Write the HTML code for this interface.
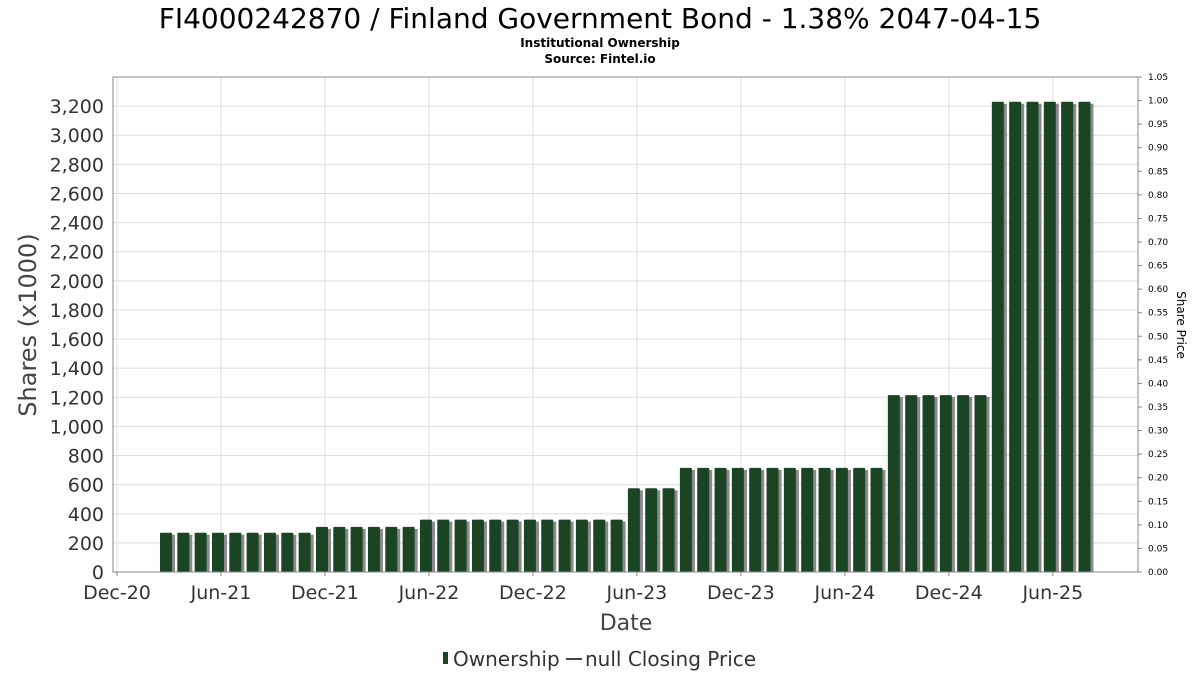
<!DOCTYPE html>
<html><head><meta charset="utf-8"><style>
body{margin:0;background:#fff;font-family:"DejaVu Sans","Liberation Sans",sans-serif;}
svg text{font-family:"DejaVu Sans","Liberation Sans",sans-serif;}
</style></head><body>
<svg id="c" width="1200" height="675" xmlns="http://www.w3.org/2000/svg">
<text x="600" y="28" text-anchor="middle" font-size="28" fill="#000">FI4000242870 / Finland Government Bond - 1.38% 2047-04-15</text>
<text x="600" y="47" text-anchor="middle" font-size="12" font-weight="bold" fill="#000">Institutional Ownership</text>
<text x="600" y="63" text-anchor="middle" font-size="12" font-weight="bold" fill="#000">Source: Fintel.io</text>
<g id="grid"></g><g id="bars"></g><g id="axes"></g>
<text transform="translate(36,325) rotate(-90)" text-anchor="middle" font-size="24" fill="#444">Shares (x1000)</text>
<text transform="translate(1177,325) rotate(90)" text-anchor="middle" font-size="12" fill="#000">Share Price</text>
<text x="626" y="630" text-anchor="middle" font-size="22" fill="#444">Date</text>
<g>
<rect x="443" y="652" width="5" height="12" fill="#1a4424"/>
<text x="453" y="666" font-size="20" fill="#333">Ownership</text>
<line x1="566" y1="659" x2="582" y2="659" stroke="#444" stroke-width="2"/>
<text x="585" y="666" font-size="20" fill="#333">null Closing Price</text>
</g>
</svg>
<script>
const xLabels=["Dec-20","Jun-21","Dec-21","Jun-22","Dec-22","Jun-23","Dec-23","Jun-24","Dec-24","Jun-25"];
const yTicks=[0,200,400,600,800,1000,1200,1400,1600,1800,2000,2200,2400,2600,2800,3000,3200];
const rTicks=["0.00","0.05","0.10","0.15","0.20","0.25","0.30","0.35","0.40","0.45","0.50","0.55","0.60","0.65","0.70","0.75","0.80","0.85","0.90","0.95","1.00","1.05"];
const barMonths=[];for(let i=3;i<=56;i++)barMonths.push(i);
const barValues=[270,270,270,270,270,270,270,270,270,
310,310,310,310,310,310,
360,360,360,360,360,360,360,360,360,360,360,360,
575,575,575,
715,715,715,715,715,715,715,715,715,715,715,715,
1215,1215,1215,1215,1215,1215,
3230,3230,3230,3230,3230,3230];
const L=113,R=1138,T=77,B=572,YMAX=3400;
const x=m=>117+m*17.33;
const y=v=>B-(v/YMAX)*(B-T);
const yr=v=>B-(v/1.05)*(B-T);
const NS="http://www.w3.org/2000/svg";
function mk(p,t,a){const e=document.createElementNS(NS,t);for(const k in a)e.setAttribute(k,a[k]);p.appendChild(e);return e;}
const g=document.getElementById('grid'),bg=document.getElementById('bars'),ax=document.getElementById('axes');
yTicks.forEach(v=>{
 const l=mk(g,'line',{x1:L,x2:R,y1:y(v),y2:y(v),stroke:'#ddd','stroke-width':1});
 
 
 const t=mk(ax,'text',{x:104,y:y(v)+7,'text-anchor':'end','font-size':19,fill:'#333'});
 t.textContent=v.toLocaleString('en-US');
 
 
});
xLabels.forEach((s,i)=>{
 const xx=x(i*6);
 const l=mk(g,'line',{x1:xx,x2:xx,y1:T,y2:B,stroke:'#ddd','stroke-width':1});
 
 
 mk(ax,'line',{x1:xx,x2:xx,y1:B,y2:B+4,stroke:'#888'});
 const t=mk(ax,'text',{x:xx,y:599,'text-anchor':'middle','font-size':19,fill:'#333'});
 t.textContent=s;
 
 
});
barMonths.forEach((m,i)=>{
 const v=barValues[i],xx=x(m)-9;
 const s=mk(bg,'rect',{x:xx+3,y:y(v)+2,width:12,height:B-y(v)-2,fill:'#8a8a8a'});
 
 
 const r=mk(bg,'rect',{x:xx,y:y(v),width:12,height:B-y(v),fill:'#1b4424',rx:1});
 
 
});
mk(ax,'rect',{x:L,y:T,width:R-L,height:B-T,fill:'none',stroke:'#888','stroke-width':1});
rTicks.forEach(s=>{
 const yy=yr(parseFloat(s));
 mk(ax,'line',{x1:R,x2:R+4,y1:yy,y2:yy,stroke:'#888'});
 const t=mk(ax,'text',{x:1148,y:yy+3,'font-size':9,fill:'#000'});
 t.textContent=s;
 
 
});
</script>
</body></html>
